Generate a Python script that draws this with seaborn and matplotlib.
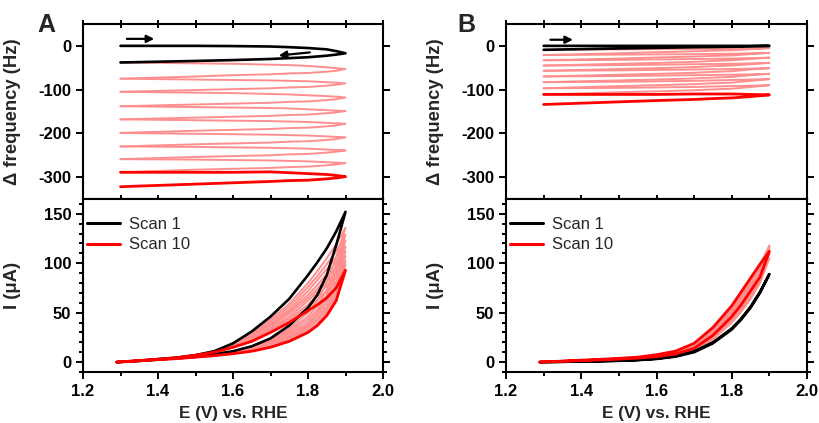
import matplotlib
matplotlib.use("Agg")
import matplotlib.pyplot as plt
import numpy as np
import pandas as pd
import seaborn as sns
from matplotlib.ticker import MultipleLocator

# ---------------- data ----------------
scans = [1, 2, 3, 4, 5, 6, 7, 8, 9, 10]

# potential grids (forward sweep; reverse sweep uses the same points reversed)
E_cv = [1.29, 1.35, 1.4, 1.45, 1.5, 1.55, 1.6, 1.65, 1.7, 1.75, 1.8, 1.825, 1.85, 1.875, 1.9]
E_fq = [1.3, 1.5, 1.6, 1.7, 1.75, 1.8, 1.85, 1.875, 1.9]

# Panel A current (uA): forward at E_cv, reverse at reversed E_cv
I_A_fwd = [
    [0, 1.5, 3, 4.5, 7, 11, 19, 31, 46, 64, 88, 101, 115, 132, 152],
    [0, 1.5, 3, 4.5, 7, 11, 18, 29, 43, 59, 80, 92, 105, 119, 136],
    [0, 1.5, 3, 4.5, 7, 11, 18, 28, 41, 56, 76, 87, 99, 112, 129],
    [0, 1.5, 3, 4.5, 7, 11, 17, 27, 39, 53, 72, 83, 94, 106, 123],
    [0, 1.5, 3, 4.5, 7, 10.5, 17, 26, 37, 51, 68, 78, 89, 101, 117],
    [0, 1.5, 3, 4.5, 7, 10.5, 16, 25, 36, 49, 65, 74, 85, 96, 112],
    [0, 1.5, 3, 4.5, 7, 10.5, 16, 24, 34, 46, 62, 71, 81, 91, 107],
    [0, 1.5, 3, 4.5, 7, 10, 16, 23, 33, 44, 58, 67, 77, 86, 102],
    [0, 1.5, 3, 4.5, 7, 10, 15, 22, 32, 42, 55, 63, 72, 81, 98],
    [0, 1.5, 3, 4.5, 7, 10, 15, 21, 30, 40, 52, 58, 65, 75, 93],
]
I_A_rev = [
    [152, 118, 88, 68, 55, 37, 24, 16, 11, 8, 5.5, 4, 2.5, 1.2, 0],
    [136, 106, 80, 62, 50, 34, 22, 15, 10.5, 7.5, 5.5, 4, 2.5, 1.2, 0],
    [129, 98, 73, 57, 46, 32, 21, 14.5, 10, 7.5, 5.5, 4, 2.5, 1.2, 0],
    [123, 92, 68, 53, 43, 30, 20, 14, 10, 7, 5.5, 4, 2.5, 1.2, 0],
    [117, 86, 64, 50, 40, 28, 19, 13.5, 9.5, 7, 5, 3.5, 2.5, 1.2, 0],
    [112, 80, 60, 47, 38, 26, 18, 13, 9.5, 7, 5, 3.5, 2.5, 1.2, 0],
    [107, 75, 56, 44, 36, 25, 17, 12, 9, 7, 5, 3.5, 2.5, 1.2, 0],
    [102, 70, 53, 42, 34, 24, 16.5, 12, 9, 6.5, 5, 3.5, 2.5, 1.2, 0],
    [98, 66, 50, 39, 32, 22.5, 16, 11.5, 8.5, 6.5, 5, 3.5, 2.5, 1.2, 0],
    [93, 62, 47, 37, 30, 21, 15, 11, 8.5, 6.5, 5, 3.5, 2.5, 1.2, 0],
]

# Panel B current (uA)
I_B_fwd = [
    [0, 0.3, 0.6, 1, 1.5, 2.2, 3.5, 6, 11, 20, 34, 44, 56, 71, 89],
    [0, 0.5, 1, 1.6, 2.3, 3, 4.5, 7.5, 13, 25, 43, 55, 70, 86, 105],
    [0, 0.6, 1.2, 1.8, 2.6, 3.5, 5, 8.5, 14, 27, 46, 59, 75, 91, 110],
    [0, 0.7, 1.4, 2, 2.9, 3.8, 5.5, 9, 15, 29, 49, 62, 78, 94, 114],
    [0, 0.8, 1.5, 2.2, 3.1, 4.2, 6, 9.5, 16, 31, 51, 65, 80, 96, 117],
    [0, 0.8, 1.6, 2.4, 3.3, 4.4, 6.5, 10, 17, 32, 53, 67, 82, 97, 118],
    [0, 0.9, 1.7, 2.5, 3.5, 4.6, 7, 10.5, 17.5, 33, 54, 68, 83, 98, 117],
    [0, 0.9, 1.8, 2.6, 3.6, 4.8, 7, 10.5, 18, 34, 55, 69, 84, 98, 115],
    [0, 1, 1.9, 2.7, 3.7, 4.9, 7.2, 11, 18.5, 34, 56, 70, 85, 99, 113],
    [0, 1, 2, 2.8, 3.8, 5, 7.5, 11, 19, 35, 57, 71, 85, 99, 112],
]
I_B_rev = [
    [89, 70, 55, 43, 33, 19, 10, 5.5, 3.2, 2, 1.3, 0.9, 0.6, 0.3, 0],
    [105, 80, 64, 51, 40, 23, 12, 6.5, 4, 2.8, 2, 1.4, 0.9, 0.5, 0],
    [110, 82, 66, 53, 42, 24, 12.5, 7, 4.5, 3.2, 2.3, 1.6, 1.1, 0.6, 0],
    [114, 84, 68, 55, 43, 25, 13, 7, 4.8, 3.5, 2.5, 1.8, 1.2, 0.6, 0],
    [117, 85, 69, 56, 44, 25.5, 13, 7.5, 5, 3.6, 2.7, 1.9, 1.3, 0.7, 0],
    [118, 86, 70, 56, 44, 26, 13.5, 7.5, 5, 3.7, 2.8, 2, 1.4, 0.7, 0],
    [117, 86, 71, 57, 45, 26, 13.5, 7.8, 5.2, 3.8, 2.9, 2.1, 1.4, 0.8, 0],
    [115, 86, 71, 57, 45, 26.5, 14, 8, 5.3, 3.9, 3, 2.1, 1.5, 0.8, 0],
    [113, 86, 72, 58, 46, 27, 14, 8, 5.4, 4, 3, 2.2, 1.5, 0.8, 0],
    [112, 86, 72, 58, 46, 27, 14, 8, 5.5, 4, 3, 2.2, 1.5, 0.8, 0],
]

# Panel A frequency shift (Hz): forward at E_fq, reverse at reversed E_fq
F_A_fwd = [
    [0, 0, -0.5, -1.5, -3, -5, -8, -12, -17],
    [-38, -40, -41, -43, -44, -46, -49, -51, -53],
    [-75, -77, -78, -79, -80, -81, -83, -84, -86],
    [-105, -107, -108, -110, -111, -113, -115, -116, -118],
    [-138, -140, -141, -142, -143, -145, -147, -148, -149],
    [-168, -170, -171, -172, -173, -174, -176, -177, -178],
    [-199, -201, -202, -203, -204, -205, -207, -208, -209],
    [-230, -231, -232, -233, -234, -235, -237, -238, -239],
    [-259, -260, -261, -262, -263, -264, -266, -267, -268],
    [-289, -289, -289, -288, -290, -292, -294, -296, -299],
]
F_A_rev = [
    [-17, -20, -22.5, -26, -28, -30, -32.5, -34.5, -38],
    [-53, -57, -59, -62, -63, -65, -67, -70, -75],
    [-86, -89, -91, -94, -95, -97, -99, -101, -105],
    [-118, -122, -124, -127, -128, -130, -132, -134, -138],
    [-149, -152, -154, -157, -158, -160, -162, -164, -168],
    [-178, -182, -184, -187, -188, -190, -192, -194, -199],
    [-209, -213, -215, -218, -219, -221, -223, -225, -230],
    [-239, -242, -244, -247, -248, -250, -252, -254, -259],
    [-268, -271, -273, -276, -277, -279, -281, -283, -289],
    [-299, -302, -304, -307, -308, -310, -313, -316, -322],
]

# Panel B frequency shift (Hz)
F_B_fwd = [
    [0, 0, 0, 0, 0, 0, 0, 0, 0],
    [-9, -8, -7.5, -7, -6.5, -6, -6, -5.5, -5],
    [-21, -20, -19.5, -19, -18.5, -18, -17, -16.5, -16],
    [-33, -32, -31, -30, -29.5, -29, -28, -27.5, -27],
    [-45, -44, -43, -42, -41.5, -41, -40, -39.5, -39],
    [-57, -56, -55, -54, -53.5, -53, -52, -51.5, -51],
    [-70, -69, -68, -67, -66.5, -66, -65, -64.5, -64],
    [-83, -82, -81, -80, -79, -78, -77, -76.5, -76],
    [-97, -96, -95, -94, -93, -92, -91, -90.5, -90],
    [-111, -111, -111, -110, -110, -110, -111, -111.5, -112],
]
F_B_rev = [
    [0, -0.5, -1, -2, -2.5, -3, -4.5, -6, -9],
    [-5, -6.5, -8, -10, -11, -12.5, -14.5, -17, -21],
    [-16, -17.5, -19, -22, -23, -24.5, -26.5, -29, -33],
    [-27, -28.5, -30, -33, -34.5, -36.5, -39, -41, -45],
    [-39, -40.5, -42, -45, -46.5, -48.5, -51, -53, -57],
    [-51, -52.5, -54, -58, -59.5, -61.5, -64, -66, -70],
    [-64, -65.5, -67, -71, -72.5, -74.5, -77, -79, -83],
    [-76, -78, -80, -84, -85.5, -87.5, -90, -92, -97],
    [-90, -92, -94, -98, -99.5, -101.5, -104, -106, -111],
    [-112, -114, -116, -119, -120.5, -122.5, -125, -128, -134],
]

legend_labels = {1: "Scan 1", 10: "Scan 10"}
panel_letters = ["A", "B"]
freq_ticks = [-300, -200, -100, 0]
cur_ticks = [0, 50, 100, 150]
x_ticks = [1.2, 1.4, 1.6, 1.8, 2.0]


def to_frame(grid, fwd, rev, col):
    rows = []
    for s, f, r in zip(scans, fwd, rev):
        Es = list(grid) + list(grid[::-1])
        vals = list(f) + list(r)
        for k, (e, v) in enumerate(zip(Es, vals)):
            rows.append({"scan": s, "step": k, "E": e, col: v})
    return pd.DataFrame(rows)


df_IA = to_frame(E_cv, I_A_fwd, I_A_rev, "I")
df_IB = to_frame(E_cv, I_B_fwd, I_B_rev, "I")
df_FA = to_frame(E_fq, F_A_fwd, F_A_rev, "F")
df_FB = to_frame(E_fq, F_B_fwd, F_B_rev, "F")

# ---------------- style ----------------
sns.set_theme(style="ticks")
plt.rcParams["font.family"] = ["Liberation Sans", "DejaVu Sans"]
plt.rcParams["axes.unicode_minus"] = False

BLACK = "#000000"
RED = "#ff0000"
PINK = "#ff8f8f"


def style_for(s):
    if s == 1:
        return BLACK, 1.9, 5
    if s == 10:
        return RED, 2.0, 6
    return PINK, 1.4, 3


def draw(ax, df, col, with_label):
    order = [2, 3, 4, 5, 6, 7, 8, 9, 1, 10]
    for s in order:
        c, lw, z = style_for(s)
        sub = df[df["scan"] == s].sort_values("step")
        lab = legend_labels.get(s) if with_label else None
        sns.lineplot(data=sub, x="E", y=col, sort=False, estimator=None,
                     color=c, lw=lw, ax=ax, zorder=z, label=lab, legend=False)


fig = plt.figure(figsize=(8.19, 4.23), dpi=100)

lefts = [83 / 819, 506 / 819]
widths = [300 / 819, 301 / 819]
top_box = (0.5296, 0.4137)
bot_box = (0.1206, 0.4090)

freq_frames = [df_FA, df_FB]
cur_frames = [df_IA, df_IB]
arrows = [
    [((1.317, 16), (1.390, 16)), ((1.805, -15), (1.722, -22))],
    [((1.318, 14), (1.378, 14))],
]

for p in range(2):
    axT = fig.add_axes([lefts[p], top_box[0], widths[p], top_box[1]])
    axB = fig.add_axes([lefts[p], bot_box[0], widths[p], bot_box[1]])

    draw(axT, freq_frames[p], "F", False)
    draw(axB, cur_frames[p], "I", True)

    for a in (axT, axB):
        a.set_xlim(1.2, 2.0)
        for sp in a.spines.values():
            sp.set_linewidth(1.5)
            sp.set_color("black")
            sp.set_visible(True)
        a.tick_params(which="both", colors="black", width=1.4,
                      left=True, right=True, top=True, bottom=True)
        a.tick_params(which="major", length=5)
        a.tick_params(which="minor", length=3)
        a.tick_params(labelsize=12)

    # top (frequency) axes
    axT.set_ylim(-350, 50)
    axT.set_yticks(freq_ticks)
    axT.set_yticklabels([str(v) for v in freq_ticks], fontweight="bold", fontsize=12)
    axT.xaxis.set_major_locator(MultipleLocator(0.1))
    axT.tick_params(axis="x", direction="inout", labelbottom=False, length=6)
    axT.tick_params(axis="y", direction="out")
    axT.set_xlabel("")
    axT.set_ylabel("Δ frequency (Hz)", fontsize=13.3, fontweight="bold")
    axT.yaxis.set_label_coords(-0.207, 0.5)

    # bottom (current) axes
    axB.set_ylim(-10, 165)
    axB.set_yticks(cur_ticks)
    axB.set_yticklabels([str(v) for v in cur_ticks], fontweight="bold", fontsize=12)
    axB.yaxis.set_minor_locator(MultipleLocator(10))
    axB.set_xticks(x_ticks)
    axB.set_xticklabels([f"{v:.1f}" for v in x_ticks], fontweight="bold", fontsize=12)
    axB.xaxis.set_minor_locator(MultipleLocator(0.1))
    axB.tick_params(which="both", direction="out", top=False)
    axB.set_xlabel("E (V) vs. RHE", fontsize=12.3, fontweight="bold")
    axB.set_ylabel("I (μA)", fontsize=13.3, fontweight="bold")
    axB.yaxis.set_label_coords(-0.207, 0.5)
    axB.xaxis.labelpad = 5

    leg = axB.legend(loc="upper left", bbox_to_anchor=(-0.009, 0.935),
                     frameon=False, fontsize=12, handlelength=2.0,
                     handletextpad=0.5, borderaxespad=0.0, labelspacing=0.33)
    for ln in leg.get_lines():
        ln.set_linewidth(2.2)

    for (x0, y0), (x1, y1) in arrows[p]:
        axT.annotate("", xy=(x1, y1), xytext=(x0, y0),
                     arrowprops=dict(arrowstyle="-|>", color="black", lw=1.6,
                                     mutation_scale=11, shrinkA=0, shrinkB=0))

fig.text(46 / 819, 1 - 25 / 423, panel_letters[0], fontsize=18, fontweight="bold",
         ha="center", va="center")
fig.text(466 / 819, 1 - 25 / 423, panel_letters[1], fontsize=18, fontweight="bold",
         ha="center", va="center")

fig.savefig("out.png", dpi=100)
